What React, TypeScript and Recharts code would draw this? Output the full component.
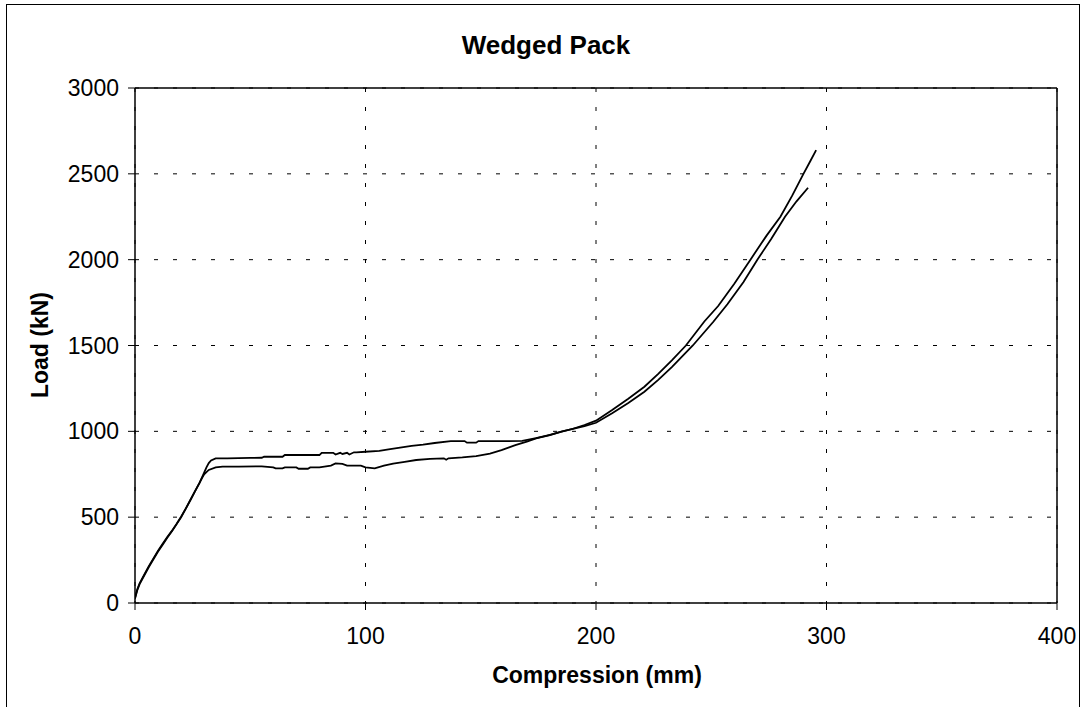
import {
	LineChart,
	Line,
	XAxis,
	YAxis,
	CartesianGrid,
	ReferenceLine,
} from "recharts"

// compression (mm) / load (kN)
const upperX = [
	0, 1, 2, 4, 6, 8, 10, 12, 14, 16, 18, 20, 22, 24, 26, 28, 30, 31, 32, 33, 35, 40, 50, 55, 56, 64, 65, 80,
	81, 86, 87, 89, 90, 92, 93, 95, 96, 100, 106, 110, 115, 120, 125, 130, 137, 143, 144, 148, 149, 160, 168,
	174, 180, 185, 190, 195, 200, 207, 214, 221, 227, 233, 239, 247, 253, 260, 267, 274, 280, 285, 290, 293,
	295.5,
]
const upperY = [
	30, 80, 115, 165, 215, 260, 305, 345, 385, 420, 460, 503, 550, 600, 650, 700, 760, 790, 815, 830, 842, 843,
	845, 846, 852, 852, 862, 862, 875, 875, 865, 875, 868, 875, 865, 878, 878, 881, 886, 895, 905, 915, 922,
	932, 943, 943, 934, 934, 943, 943, 944, 960, 980, 998, 1015, 1037, 1062, 1124, 1190, 1260, 1335, 1415,
	1500, 1640, 1730, 1860, 2000, 2140, 2250, 2370, 2500, 2575, 2638,
]
const lowerX = [
	0, 1, 2, 4, 6, 8, 10, 12, 14, 16, 18, 20, 22, 24, 26, 28, 29, 30, 32, 35, 38, 45, 55, 60, 61, 64, 65, 70,
	71, 75, 76, 80, 85, 87, 90, 92, 98, 100, 104, 108, 112, 117, 122, 128, 134, 135, 136, 142, 148, 154, 159,
	162, 165, 170, 174, 180, 185, 190, 195, 200, 207, 214, 221, 227, 233, 242, 251, 257, 264, 270, 276, 282,
	287, 292,
]
const lowerY = [
	25, 75, 110, 160, 210, 255, 300, 340, 380, 418, 458, 500, 548, 598, 650, 700, 726, 750, 775, 790, 794, 795,
	796, 790, 784, 784, 790, 790, 782, 782, 790, 790, 800, 813, 810, 800, 800, 790, 784, 800, 812, 822, 833,
	840, 843, 835, 843, 848, 856, 870, 891, 905, 920, 940, 959, 978, 998, 1015, 1030, 1050, 1105, 1165, 1231,
	1300, 1376, 1500, 1640, 1740, 1870, 2000, 2120, 2250, 2340, 2419,
]

const xTicks = [0, 100, 200, 300, 400]
const yTicks = [0, 500, 1000, 1500, 2000, 2500, 3000]

const upper = upperX.map((x, i) => ({ x, y: upperY[i] }))
const lower = lowerX.map((x, i) => ({ x, y: lowerY[i] }))

const font = "'Liberation Sans', Arial, sans-serif"
const tick = { fill: "#000", fontSize: 23, fontFamily: font }

const App = () => {
	return (
		<div style={{ position: "absolute", left: 0, top: 0, width: 1082, height: 707, background: "#fff", overflow: "hidden" }}>
			<div style={{ position: "absolute", left: 6, top: 4, width: 1072, height: 720, border: "1px solid #000" }} />
			<LineChart
				width={1082}
				height={707}
				margin={{ top: 88, right: 25, left: 0, bottom: 0 }}
				style={{ position: "absolute", left: 0, top: 0 }}
			>
				<CartesianGrid stroke="#000" strokeDasharray="4 15" />
				<XAxis
					type="number"
					dataKey="x"
					domain={[0, 400]}
					ticks={xTicks}
					height={104}
					tick={tick}
					tickSize={7}
					tickMargin={18}
					axisLine={{ stroke: "#000", strokeWidth: 1.5 }}
					tickLine={{ stroke: "#000" }}
					allowDataOverflow
				/>
				<YAxis
					type="number"
					dataKey="y"
					domain={[0, 3000]}
					ticks={yTicks}
					width={135}
					tick={tick}
					tickSize={7}
					tickMargin={9}
					axisLine={{ stroke: "#000", strokeWidth: 1.5 }}
					tickLine={{ stroke: "#000" }}
				/>
				<ReferenceLine y={3000} stroke="#000" strokeWidth={1.5} />
				<ReferenceLine x={400} stroke="#000" strokeWidth={1.5} />
				<Line data={upper} dataKey="y" type="linear" stroke="#000" strokeWidth={1.8} dot={false} isAnimationActive={false} />
				<Line data={lower} dataKey="y" type="linear" stroke="#000" strokeWidth={1.8} dot={false} isAnimationActive={false} />
			</LineChart>
			<div style={{ position: "absolute", left: 0, width: 1092, top: 30, textAlign: "center", fontFamily: font, fontWeight: "bold", fontSize: 26 }}>
				Wedged Pack
			</div>
			<div style={{ position: "absolute", left: 135, width: 924, top: 662, textAlign: "center", fontFamily: font, fontWeight: "bold", fontSize: 23 }}>
				Compression (mm)
			</div>
			<div
				style={{
					position: "absolute",
					left: 40,
					top: 345,
					transform: "translate(-50%, -50%) rotate(-90deg)",
					whiteSpace: "nowrap",
					fontFamily: font,
					fontWeight: "bold",
					fontSize: 23,
				}}
			>
				Load (kN)
			</div>
		</div>
	)
}

export default App
